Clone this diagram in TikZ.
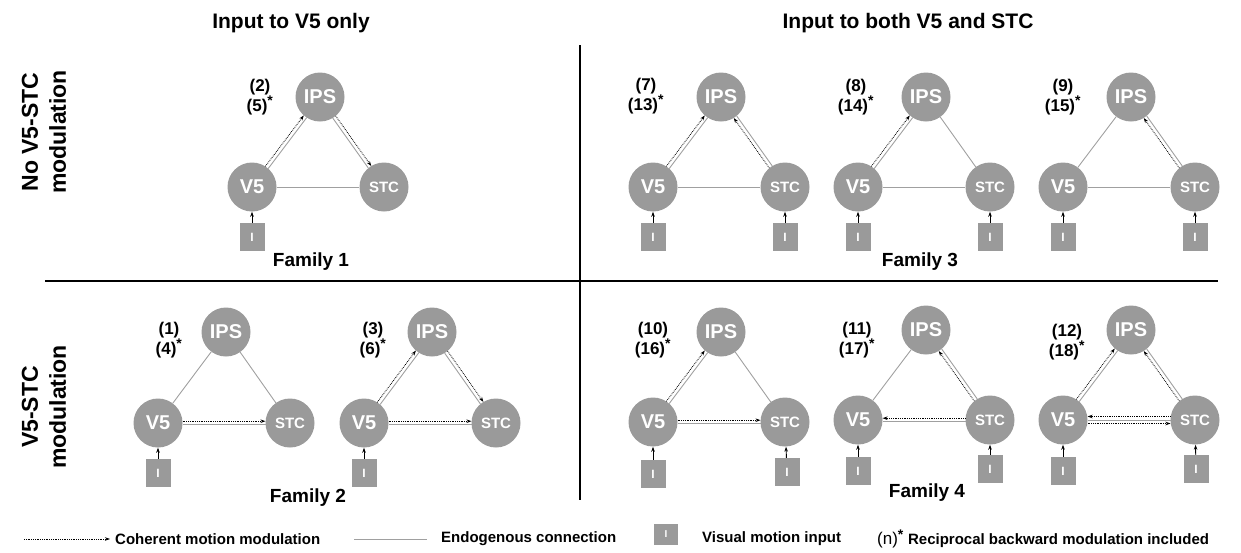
\documentclass[tikz,border=0pt]{standalone}
\usepackage{fontspec}
\setmainfont{Liberation Sans}
\usetikzlibrary{arrows.meta,calc}
\definecolor{nodegrey}{HTML}{9A9A9A}
\definecolor{linegrey}{HTML}{A0A0A0}
\tikzset{
 area/.style={circle, fill=nodegrey, minimum size=49pt, inner sep=0pt, text=white, font=\bfseries\fontsize{20}{20}\selectfont},
 stcarea/.style={area, font=\bfseries\fontsize{15}{15}\selectfont},
 inbox/.style={rectangle, fill=nodegrey, minimum width=25pt, minimum height=28pt, inner sep=0pt, text=white, font=\bfseries\fontsize{12}{12}\selectfont},
 endo/.style={draw=linegrey, line width=0.9pt},
 modgrey/.style={draw=linegrey, line width=0.9pt, shorten <=24.5pt, shorten >=24.5pt},
 dotline/.style={draw=black, densely dotted, line width=0.8pt, -{Stealth[length=5pt,width=3.5pt]}},
 moddot/.style={dotline, shorten <=24.5pt, shorten >=24.5pt},
 inarrow/.style={draw=black, line width=0.9pt, -{Stealth[length=5pt,width=3.5pt]}},
 modlabel/.style={align=center, font=\bfseries\fontsize{17}{16}\selectfont, inner sep=0pt},
 famlabel/.style={font=\bfseries\fontsize{19}{19}\selectfont, inner sep=0pt},
 titlelabel/.style={font=\bfseries\fontsize{21}{21}\selectfont, inner sep=0pt},
 rowlabel/.style={align=center, rotate=90, font=\bfseries\fontsize{23}{28}\selectfont, inner sep=0pt},
 legendtext/.style={anchor=west, font=\bfseries\fontsize{15}{15}\selectfont, inner sep=0pt},
 divider/.style={draw=black, line width=1.6pt},
}
% triad: prefix, x of V5, y of V5/STC, y of IPS
\newcommand\triad[4]{%
 \node[area] (#1v) at (#2,#3) {V5};
 \node[stcarea] (#1s) at (#2+132,#3) {STC};
 \node[area] (#1i) at (#2+68,#4) {IPS};
}
\newcommand\modc[2]{%
 \draw[modgrey] ($(#1)!1.8pt!-90:(#2)$) -- ($(#2)!1.8pt!90:(#1)$);
 \draw[moddot] ($(#1)!1.8pt!90:(#2)$) -- ($(#2)!1.8pt!-90:(#1)$);
}
\newcommand\modcflip[2]{%
 \draw[modgrey] ($(#1)!1.8pt!90:(#2)$) -- ($(#2)!1.8pt!-90:(#1)$);
 \draw[moddot] ($(#1)!1.8pt!-90:(#2)$) -- ($(#2)!1.8pt!90:(#1)$);
}
\newcommand\modbi[2]{%
 \draw[modgrey] (#1.center) -- (#2.center);
 \draw[moddot] ($(#1)!3.5pt!-90:(#2)$) -- ($(#2)!3.5pt!90:(#1)$);
 \draw[moddot] ($(#2)!3.5pt!-90:(#1)$) -- ($(#1)!3.5pt!90:(#2)$);
}
\newcommand\modstar{\textsuperscript{\fontsize{14}{14}\selectfont *}}
\begin{document}
\begin{tikzpicture}[x=1pt,y=-1pt]
\useasboundingbox (0,0) rectangle (1241,552);
% titles
\node[titlelabel] (t1) at (291,23) {Input to V5 only};
\node[titlelabel] (t2) at (908,23) {Input to both V5 and STC};
\node[rowlabel] (r1) at (44,132) {No V5-STC\\modulation};
\node[rowlabel] (r2) at (44,407) {V5-STC\\modulation};
% dividers
\coordinate (vtop) at (580,45);
\coordinate (vbot) at (580,500);
\coordinate (hl) at (45,281);
\coordinate (hr) at (1218,281);
\draw[divider] (vtop) -- (vbot);
\draw[divider] (hl) -- (hr);

% ---------- Family 1
\triad{A}{252}{187}{97}
\node[inbox] (Ain) at (252,237) {I};
\draw[inarrow] (Ain) -- (Av);
\modc{Av}{Ai}
\modc{Ai}{As}
\draw[endo] (Av) -- (As);
\node[modlabel] (Al) at (260,97) {(2)\\(5)\modstar};
\node[famlabel] (F1) at (311,262) {Family 1};

% ---------- Family 3
\triad{B}{653}{187}{97}
\node[inbox] (Bin) at (653,237) {I};
\node[inbox] (Bin2) at (785,237) {I};
\draw[inarrow] (Bin) -- (Bv);
\draw[inarrow] (Bin2) -- (Bs);
\modc{Bv}{Bi}
\modc{Bs}{Bi}
\draw[endo] (Bv) -- (Bs);
\node[modlabel] (Bl) at (646,96) {(7)\\(13)\modstar};

\triad{C}{858}{187}{97}
\node[inbox] (Cin) at (858,237) {I};
\node[inbox] (Cin2) at (990,237) {I};
\draw[inarrow] (Cin) -- (Cv);
\draw[inarrow] (Cin2) -- (Cs);
\modc{Cv}{Ci}
\draw[endo] (Ci) -- (Cs);
\draw[endo] (Cv) -- (Cs);
\node[modlabel] (Cl) at (856,97) {(8)\\(14)\modstar};

\triad{D}{1063}{187}{97}
\node[inbox] (Din) at (1063,237) {I};
\node[inbox] (Din2) at (1195,237) {I};
\draw[inarrow] (Din) -- (Dv);
\draw[inarrow] (Din2) -- (Ds);
\draw[endo] (Dv) -- (Di);
\modc{Ds}{Di}
\draw[endo] (Dv) -- (Ds);
\node[modlabel] (Dl) at (1063,97) {(9)\\(15)\modstar};
\node[famlabel] (F3) at (920,262) {Family 3};

% ---------- Family 2
\triad{E}{158}{423}{332}
\node[inbox] (Ein) at (158,473) {I};
\draw[inarrow] (Ein) -- (Ev);
\draw[endo] (Ev) -- (Ei);
\draw[endo] (Ei) -- (Es);
\modc{Ev}{Es}
\node[modlabel] (El) at (169,340) {(1)\\(4)\modstar};

\triad{F}{364}{423}{332}
\node[inbox] (Fin) at (364,473) {I};
\draw[inarrow] (Fin) -- (Fv);
\modc{Fv}{Fi}
\modc{Fi}{Fs}
\modc{Fv}{Fs}
\node[modlabel] (Fl) at (373,340) {(3)\\(6)\modstar};
\node[famlabel] (F2) at (308,498) {Family 2};

% ---------- Family 4
\triad{G}{653}{422}{332}
\node[inbox] (Gin) at (653,474) {I};
\node[inbox] (Gin2) at (787,472) {I};
\draw[inarrow] (Gin) -- (Gv);
\draw[inarrow] (Gin2) -- (Gs);
\modc{Gv}{Gi}
\draw[endo] (Gi) -- (Gs);
\modc{Gv}{Gs}
\node[modlabel] (Gl) at (653,340) {(10)\\(16)\modstar};

\triad{H}{858}{420}{330}
\node[inbox] (Hin) at (858,471) {I};
\node[inbox] (Hin2) at (990,469) {I};
\draw[inarrow] (Hin) -- (Hv);
\draw[inarrow] (Hin2) -- (Hs);
\draw[endo] (Hv) -- (Hi);
\modc{Hs}{Hi}
\modcflip{Hs}{Hv}
\node[modlabel] (Hl) at (857,340) {(11)\\(17)\modstar};

\triad{K}{1063}{420}{330}
\node[inbox] (Kin) at (1063,471) {I};
\node[inbox] (Kin2) at (1196,469) {I};
\draw[inarrow] (Kin) -- (Kv);
\draw[inarrow] (Kin2) -- (Ks);
\modc{Kv}{Ki}
\modc{Ks}{Ki}
\modbi{Kv}{Ks}
\node[modlabel] (Kl) at (1067,342) {(12)\\(18)\modstar};
\node[famlabel] (F4) at (927,493) {Family 4};

% ---------- legend
\coordinate (lga) at (24,539);
\coordinate (lgb) at (110,539);
\draw[dotline] (lga) -- (lgb);
\node[legendtext] (lt1) at (115,539) {Coherent motion modulation};
\coordinate (lgc) at (354,539);
\coordinate (lgd) at (427,539);
\draw[endo] (lgc) -- (lgd);
\node[legendtext] (lt2) at (441,539) {Endogenous connection};
\node[inbox, minimum width=24pt, minimum height=21pt, font=\bfseries\fontsize{10}{10}\selectfont] (lgbox) at (666,534) {I};
\node[legendtext] (lt3) at (702,539) {Visual motion input};
\node[legendtext] (lt4) at (877,539) {{\mdseries\fontsize{17}{17}\selectfont (n)}\modstar\ Reciprocal backward modulation included};
\end{tikzpicture}
\end{document}
